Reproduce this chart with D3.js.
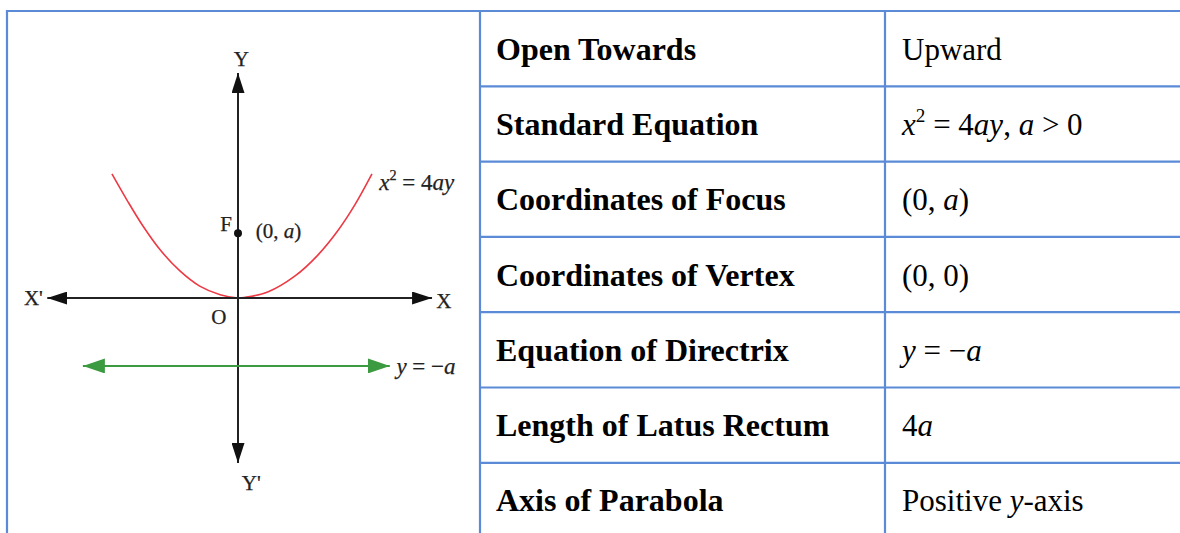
<!DOCTYPE html>
<html>
<head>
<meta charset="utf-8">
<script src="https://cdn.jsdelivr.net/npm/d3@7"></script>
<style>
  body { margin: 0; background: #fff; }
  svg { display: block; }
</style>
</head>
<body>
<script>
var width = 1180;
var height = 533;

// table rows
var properties = ["Open Towards", "Standard Equation", "Coordinates of Focus",
  "Coordinates of Vertex", "Equation of Directrix", "Length of Latus Rectum", "Axis of Parabola"];
// *..* = italic, ^..^ = superscript
var values = ["Upward", "*x*^2^ = 4*ay*, *a* > 0", "(0, *a*)", "(0, 0)",
  "*y* = \u2212*a*", "4*a*", "Positive *y*-axis"];

// diagram, in units of a
var parabolaLeft = [[-1.91, 1.88], [-1.68, 1.48], [-1.44, 1.09], [-1.18, 0.73],
  [-0.88, 0.41], [-0.58, 0.18], [-0.27, 0.05], [0, 0]];
var parabolaRight = [[0.11, 0.01], [0.45, 0.09], [0.86, 0.33], [1.21, 0.65],
  [1.52, 1.03], [1.77, 1.41], [2.03, 1.88]];
var xAxisEnds = [[-2.89, 0], [2.94, 0]];
var yAxisEnds = [[0, 3.41], [0, -2.5]];
var directrixEnds = [[-2.35, -1.03], [2.30, -1.03]];
var focus = [0, 0.98];
var labels = [
  {text: "Y", at: [0.05, 3.62], anchor: "middle", size: 21},
  {text: "Y'", at: [0.2, -2.8], anchor: "middle", size: 21},
  {text: "X'", at: [-3.1, 0], anchor: "middle", size: 21},
  {text: "X", at: [3.12, -0.04], anchor: "middle", size: 21},
  {text: "O", at: [-0.29, -0.29], anchor: "middle", size: 21},
  {text: "F", at: [-0.18, 1.12], anchor: "middle", size: 21},
  {text: "(0, *a*)", at: [0.27, 1.02], anchor: "start", size: 21},
  {text: "*x*^2^ = 4*ay*", at: [2.14, 1.76], anchor: "start", size: 23},
  {text: "*y* = \u2212*a*", at: [2.4, -1.03], anchor: "start", size: 23}
];

var svg = d3.select("body")
            .append("svg")
            .attr("width", width)
            .attr("height", height);

var border = "#5b8bd6";
var serif = "'Liberation Serif', 'Times New Roman', serif";

// --- table grid
var tableLeft = 7, tableTop = 11, splitX = 480, colX = 885, tableRight = 1190;
var row = d3.scaleBand().domain(d3.range(properties.length)).range([tableTop, tableTop + 7 * 75.3]);

var grid = svg.append("g").attr("stroke", border).attr("stroke-width", 2.2);
grid.selectAll("line.h")
  .data(d3.range(properties.length + 1))
  .enter().append("line")
  .attr("x1", function(i) { return i === 0 || i === properties.length ? tableLeft : splitX; })
  .attr("x2", tableRight)
  .attr("y1", function(i) { return i < properties.length ? row(i) : row(i - 1) + row.bandwidth(); })
  .attr("y2", function(i) { return i < properties.length ? row(i) : row(i - 1) + row.bandwidth(); });
[tableLeft, splitX, colX].forEach(function(x) {
  grid.append("line").attr("x1", x).attr("x2", x).attr("y1", tableTop - 1.1).attr("y2", height + 10);
});

// write text with the little markup used in the arrays
function rich(sel, str, size) {
  var parts = str.split(/(\*[^*]+\*|\^[^^]+\^)/).filter(function(p) { return p.length; });
  var raised = false;
  parts.forEach(function(p) {
    var t = sel.append("tspan");
    if (p[0] === "*") {
      t.text(p.slice(1, -1)).attr("font-style", "italic");
    } else if (p[0] === "^") {
      t.text(p.slice(1, -1)).attr("font-size", size * 0.62).attr("dy", -size * 0.42);
      raised = true;
      return;
    } else {
      t.text(p);
    }
    if (raised) { t.attr("dy", size * 0.42); raised = false; }
  });
}

var fs = 31;
svg.selectAll("text.prop")
  .data(properties)
  .enter().append("text")
  .attr("class", "prop")
  .attr("x", splitX + 16)
  .attr("y", function(d, i) { return row(i) + row.bandwidth() / 2 + 11; })
  .attr("font-family", serif)
  .attr("font-weight", "bold")
  .attr("font-size", 32)
  .attr("fill", "#000")
  .text(function(d) { return d; });

svg.selectAll("text.val")
  .data(values)
  .enter().append("text")
  .attr("class", "val")
  .attr("x", colX + 17)
  .attr("y", function(d, i) { return row(i) + row.bandwidth() / 2 + 11; })
  .attr("font-family", serif)
  .attr("font-size", fs)
  .attr("fill", "#000")
  .each(function(d) { rich(d3.select(this), d, fs); });

// --- parabola diagram
var x = d3.scaleLinear().domain([-3, 3]).range([40, 436]);
var y = d3.scaleLinear().domain([-2.5, 3.5]).range([463, 67]);
var line = d3.line().x(function(d) { return x(d[0]); }).y(function(d) { return y(d[1]); });

var defs = svg.append("defs");
function arrow(id, color, len, half) {
  defs.append("marker")
    .attr("id", id)
    .attr("markerUnits", "userSpaceOnUse")
    .attr("viewBox", "0 " + (-half) + " " + len + " " + (2 * half))
    .attr("refX", len).attr("refY", 0)
    .attr("markerWidth", len).attr("markerHeight", 2 * half)
    .attr("orient", "auto-start-reverse")
    .append("path")
    .attr("d", "M0," + (-half) + "L" + len + ",0L0," + half + "Z")
    .attr("fill", color);
}
arrow("ax", "#111", 20, 6.5);
arrow("gr", "#3c9a40", 22, 7.5);

var diagram = svg.append("g");

diagram.append("path")
  .datum(parabolaLeft.concat(parabolaRight))
  .attr("d", line.curve(d3.curveCatmullRom))
  .attr("fill", "none")
  .attr("stroke", "#ec3a44")
  .attr("stroke-width", 1.6);

line.curve(d3.curveLinear);
[xAxisEnds, yAxisEnds].forEach(function(ends) {
  diagram.append("path")
    .datum(ends)
    .attr("d", line)
    .attr("stroke", "#222")
    .attr("stroke-width", 2)
    .attr("marker-start", "url(#ax)")
    .attr("marker-end", "url(#ax)");
});

diagram.append("path")
  .datum(directrixEnds)
  .attr("d", line)
  .attr("stroke", "#3c9a40")
  .attr("stroke-width", 2)
  .attr("marker-start", "url(#gr)")
  .attr("marker-end", "url(#gr)");

diagram.append("circle")
  .attr("cx", x(focus[0]))
  .attr("cy", y(focus[1]))
  .attr("r", 4)
  .attr("fill", "#111");

diagram.selectAll("text")
  .data(labels)
  .enter().append("text")
  .attr("x", function(d) { return x(d.at[0]); })
  .attr("y", function(d) { return y(d.at[1]); })
  .attr("dy", "0.35em")
  .attr("text-anchor", function(d) { return d.anchor; })
  .attr("font-family", serif)
  .attr("font-size", function(d) { return d.size; })
  .attr("fill", "#222")
  .attr("stroke", "#222")
  .attr("stroke-width", 0.25)
  .each(function(d) { rich(d3.select(this), d.text, d.size); });
</script>
</body>
</html>
